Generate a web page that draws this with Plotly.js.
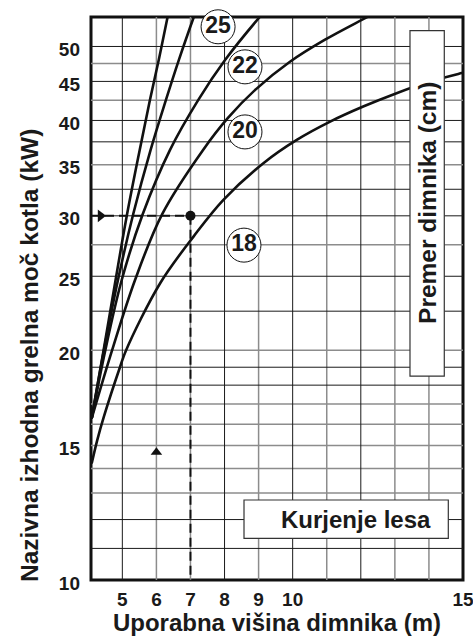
<!DOCTYPE html>
<html><head><meta charset="utf-8">
<script src="https://cdn.plot.ly/plotly-3.0.1.min.js"></script>
<style>html,body{margin:0;padding:0;background:#fff;}#chart{width:473px;height:636px;}</style>
</head><body><div id="chart"></div>
<script>
// ---- data ----
const xTickVals = [5, 6, 7, 8, 9, 10, 15];
const yTickVals = [10, 15, 20, 25, 30, 35, 40, 45, 50];
const gridXDark = [5, 8, 10, 12];
const gridXLight = [6, 7, 9, 11, 13, 14];
const gridYDark = [11, 12, 18, 19, 22.5, 25, 30, 32.5, 37.5, 40, 45, 50];
const gridYLight = [13, 14, 15, 16, 17, 20, 27.5, 35, 42.5, 47.5];

// chimney diameter curves: usable height (m) -> boiler power (kW)
const curveAx = [4.10, 4.45, 4.80, 5.14, 5.51, 5.81, 6.07, 6.33, 6.50];
const curveAy = [16.28, 20.0, 24.70, 30.16, 36.60, 42.56, 48.03, 54.70, 59.3];
const d25x = [4.10, 4.46, 4.87, 5.32, 5.83, 6.28, 6.66, 7.10, 7.39];
const d25y = [16.28, 20.0, 24.70, 30.16, 36.60, 42.56, 48.03, 54.70, 59.3];
const d22x = [4.10, 4.50, 4.98, 5.60, 6.40, 7.23, 8.02, 9.04, 9.75];
const d22y = [16.28, 20.0, 24.70, 30.16, 36.60, 42.56, 48.03, 54.70, 59.3];
const d20x = [4.10, 4.70, 5.37, 6.17, 7.37, 8.10, 8.90, 9.92, 10.95, 12.21, 13.71];
const d20y = [16.28, 20.0, 24.70, 30.16, 36.60, 40.31, 43.87, 47.74, 51.03, 54.70, 59.3];
const d18x = [4.10, 4.26, 4.46, 4.93, 5.11, 6.11, 7.10, 7.96, 9.14, 10.12, 11.10, 12.07, 13.05, 14.03, 14.96, 15.1];
const d18y = [14.21, 15.23, 16.38, 19.0, 20.0, 24.48, 28.22, 31.46, 35.16, 37.72, 39.86, 41.71, 43.43, 44.98, 46.14, 46.3];
const curveNames = ['25', '22', '20', '18'];

// example reading
const readHeight = 7;
const readPower = 30;
const arrowUpX = 6;
const arrowUpY = 14.7;

// ---- drawing ----
const X0 = 4.08, X1 = 15, Y0 = 10, Y1 = 54.65;
function hLines(vals){ const x=[],y=[]; vals.forEach(v=>{x.push(X0,X1,null); y.push(v,v,null);}); return {x,y}; }
function vLines(vals){ const x=[],y=[]; vals.forEach(v=>{x.push(v,v,null); y.push(Y0,Y1,null);}); return {x,y}; }

const dark = '#1a1a1a', light = '#8c8c8c';
const traces = [];
const gl1 = hLines(gridYLight), gl2 = vLines(gridXLight), gd1 = hLines(gridYDark), gd2 = vLines(gridXDark);
traces.push({x:gl1.x, y:gl1.y, mode:'lines', line:{color:light, width:1.5}, hoverinfo:'skip'});
traces.push({x:gl2.x, y:gl2.y, mode:'lines', line:{color:light, width:1.5}, hoverinfo:'skip'});
traces.push({x:gd1.x, y:gd1.y, mode:'lines', line:{color:dark, width:1}, hoverinfo:'skip'});
traces.push({x:gd2.x, y:gd2.y, mode:'lines', line:{color:dark, width:1}, hoverinfo:'skip'});

const curveLine = {color:'#111', width:2.6, shape:'spline', smoothing:1};
[[curveAx,curveAy],[d25x,d25y],[d22x,d22y],[d20x,d20y],[d18x,d18y]].forEach(c=>{
  traces.push({x:c[0], y:c[1], mode:'lines', line:curveLine, hoverinfo:'skip'});
});

const dashLine = {color:'#111', width:2, dash:'9px,5px'};
traces.push({x:[X0, readHeight], y:[readPower, readPower], mode:'lines', line:dashLine, hoverinfo:'skip'});
traces.push({x:[readHeight, readHeight], y:[readPower, Y0], mode:'lines', line:dashLine, hoverinfo:'skip'});
traces.push({x:[readHeight], y:[readPower], mode:'markers', marker:{color:'#111', size:10}, hoverinfo:'skip'});
traces.push({x:[4.36], y:[readPower], mode:'markers', marker:{color:'#111', size:11, symbol:'triangle-right'}, hoverinfo:'skip', cliponaxis:false});
traces.push({x:[arrowUpX], y:[arrowUpY], mode:'markers', marker:{color:'#111', size:10, symbol:'triangle-up'}, hoverinfo:'skip'});

// diameter labels
traces.push({
  x:[7.81, 8.60, 8.60, 8.57], y:[53.06, 47.02, 38.64, 27.46],
  text:curveNames, mode:'markers+text', textposition:'middle center',
  marker:{symbol:'circle', size:34, color:'#fff', line:{color:'#111', width:1}},
  textfont:{size:23, weight:700, color:'#1a1a1a'}, cliponaxis:false, hoverinfo:'skip'
});

const layout = {
  width:473, height:636, margin:{l:91, r:10, t:17, b:56},
  paper_bgcolor:'#fff', plot_bgcolor:'#fff', showlegend:false,
  font:{family:'Arial, "Liberation Sans", sans-serif', color:'#1a1a1a'},
  xaxis:{range:[X0, X1], tickvals:xTickVals, ticktext:xTickVals.map(String),
    showgrid:false, zeroline:false, showline:false, ticks:'', automargin:false,
    ticklabeloverflow:'allow',
    tickfont:{size:19, weight:700}, ticklabelstandoff:6,
    title:{text:'Uporabna višina dimnika (m)', font:{size:24, weight:700}, standoff:4}},
  yaxis:{type:'log', range:[1, Math.log10(Y1)], tickvals:yTickVals, ticktext:yTickVals.map(String),
    showgrid:false, zeroline:false, showline:false, ticks:'', automargin:false,
    ticklabeloverflow:'allow', ticklabelshift:3,
    tickfont:{size:19, weight:700}, ticklabelstandoff:10},
  shapes:[
    {type:'rect', xref:'paper', yref:'paper', x0:0, x1:1, y0:0, y1:1, line:{color:'#111', width:3}, layer:'below'},
    {type:'rect', xref:'paper', yref:'paper', x0:0.8575, x1:0.9497, y0:0.3623, y1:0.9757, fillcolor:'#fff', line:{color:'#333', width:1.2}, layer:'above'},
    {type:'rect', xref:'paper', yref:'paper', x0:0.4113, x1:0.9605, y0:0.0741, y1:0.1421, fillcolor:'#fff', line:{color:'#333', width:1.2}, layer:'above'}
  ],
  annotations:[
    {text:'Nazivna izhodna grelna moč kotla (kW)', xref:'paper', yref:'paper', x:-0.1667, y:0.3996, textangle:-90, showarrow:false, font:{size:24.5, weight:700, color:'#1a1a1a'}, xanchor:'center', yanchor:'middle'},
    {text:'Premer dimnika (cm)', xref:'paper', yref:'paper', x:0.903, y:0.6696, textangle:-90, showarrow:false, font:{size:24.5, weight:700, color:'#1a1a1a'}, xanchor:'center', yanchor:'middle'},
    {text:'Kurjenje lesa', xref:'paper', yref:'paper', x:0.7124, y:0.1083, showarrow:false, font:{size:24, weight:700, color:'#1a1a1a'}, xanchor:'center', yanchor:'middle'}
  ]
};
Plotly.newPlot('chart', traces, layout, {displayModeBar:false, staticPlot:true});
</script>
</body></html>
